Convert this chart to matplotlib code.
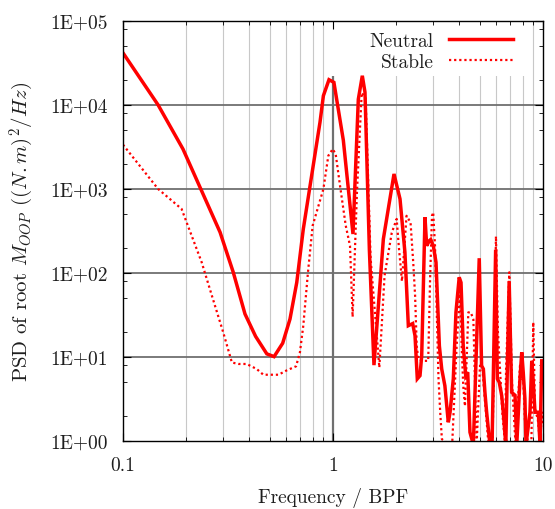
import matplotlib
matplotlib.use("Agg")
import matplotlib.pyplot as plt
from matplotlib.ticker import FixedLocator, FixedFormatter, NullFormatter
from matplotlib.patches import Rectangle

# ---------------- data ----------------
neutral_f = [0.100, 0.147, 0.193, 0.290, 0.335, 0.381, 0.428, 0.484, 0.524, 0.576,
             0.624, 0.672, 0.722, 0.867, 0.900, 0.957, 1.010, 1.120, 1.245, 1.320,
             1.379, 1.420, 1.490, 1.567, 1.737, 1.952, 2.085, 2.200, 2.284, 2.396,
             2.458, 2.520, 2.596, 2.645, 2.742, 2.793, 2.875, 2.918, 3.004, 3.094,
             3.210, 3.294, 3.410, 3.540, 3.610, 3.740, 3.850, 3.990, 4.070, 4.170,
             4.285, 4.380, 4.490, 4.660, 4.970, 5.100, 5.200, 5.290, 5.390, 5.590,
             5.720, 5.950, 6.060, 6.190, 6.360, 6.470, 6.650, 6.900, 7.090, 7.360,
             7.500, 7.770, 7.920, 8.050, 8.200, 8.300, 8.670, 8.840, 8.990, 9.160,
             9.500, 9.680, 9.860, 10.00]
neutral_psd = [41700, 10000, 2990, 305, 102, 32.5, 17.6, 10.9, 10.1, 14.6,
               28.3, 77, 333, 6220, 12900, 20000, 18600, 3800, 291, 11700,
               22300, 14200, 190, 8.0, 254, 1510, 760, 177, 23.6, 25,
               17.9, 5.5, 6.0, 10.4, 460, 211, 242, 250, 211, 134,
               13.6, 7.2, 4.55, 1.67, 2.2, 5.5, 34, 89, 77, 13.6,
               6.0, 6.6, 1.27, 0.9, 150, 7.9, 7.2, 3.8, 2.2, 0.9,
               0.9, 190, 5.5, 5.0, 3.46, 2.2, 0.9, 80, 3.8, 3.5,
               0.9, 5.5, 11.4, 6.6, 3.2, 0.9, 2.2, 9.0, 5.0, 2.2,
               2.2, 0.9, 9.0, 9.0]

stable_f = [0.100, 0.147, 0.190, 0.237, 0.265, 0.300, 0.330, 0.355, 0.388, 0.433,
            0.466, 0.550, 0.600, 0.667, 0.696, 0.722, 0.760, 0.800, 0.900, 0.950,
            0.997, 1.030, 1.080, 1.150, 1.205, 1.240, 1.300, 1.370, 1.430, 1.510,
            1.662, 1.760, 1.904, 2.010, 2.060, 2.130, 2.240, 2.340, 2.410, 2.460,
            2.504, 2.548, 2.700, 2.840, 2.900, 2.960, 3.000, 3.060, 3.120, 3.180,
            3.240, 3.300, 3.600, 3.700, 3.880, 3.950, 4.030, 4.100, 4.170, 4.250,
            4.410, 4.530, 4.660, 4.830, 5.010, 5.150, 5.250, 5.350, 5.500, 5.750,
            5.970, 6.100, 6.240, 6.400, 6.600, 6.670, 6.910, 7.120, 7.400, 7.770,
            7.920, 8.050, 8.200, 8.500, 8.800, 8.990, 9.150, 9.250, 9.450, 9.700,
            9.860, 10.00]
stable_psd = [3370, 1000, 580, 134, 53.7, 19.7, 8.6, 8.26, 8.26, 7.2,
              6.15, 6.15, 6.9, 7.75, 11.4, 23.6, 102, 366, 1000, 2490,
              2990, 2600, 1095, 366, 211, 30, 900, 14000, 12000, 150,
              7.5, 93, 300, 440, 200, 80, 480, 400, 134, 53.7,
              13.6, 9.4, 9.0, 9.0, 85, 480, 527, 211, 34, 5.5,
              2.2, 1.05, 0.9, 1.0, 13.6, 28, 65, 13.6, 4.55, 2.6,
              34, 34, 28, 0.9, 7.9, 7.2, 3.8, 2.2, 0.9, 0.9,
              273, 20, 7.2, 2.2, 0.9, 7.2, 102, 5.0, 0.9, 7.9,
              5.5, 5.5, 1.8, 0.9, 0.9, 25.9, 2.6, 2.2, 1.8, 0.9,
              2.2, 1.5]

series_labels = ["Neutral", "Stable"]

x_major = [0.1, 1, 10]
x_major_labels = ["0.1", "1", "10"]
x_minor = [0.2, 0.3, 0.4, 0.5, 0.6, 0.7, 0.8, 0.9, 2, 3, 4, 5, 6, 7, 8, 9]
y_major = [1, 10, 100, 1000, 10000, 100000]
y_major_labels = ["1E+00", "1E+01", "1E+02", "1E+03", "1E+04", "1E+05"]
y_minor = [m * d for d in [1, 10, 100, 1000, 10000] for m in (2, 5, 8)]

# ---------------- style ----------------
plt.rcParams["font.family"] = ["cmr10", "DejaVu Serif"]
plt.rcParams["mathtext.fontset"] = "cm"
plt.rcParams["axes.unicode_minus"] = False
plt.rcParams["axes.formatter.use_mathtext"] = True

text_color = "#1e1e1e"
red = "#ff0000"

fig = plt.figure(figsize=(5.55, 5.10), dpi=100)
ax = fig.add_axes([123 / 555, 68 / 510, 420 / 555, 420 / 510])
ax.set_xscale("log")
ax.set_yscale("log")
ax.set_xlim(x_major[0], x_major[-1])
ax.set_ylim(y_major[0], y_major[-1])

# grid lines (drawn manually so that the axis ticks stay above the key box)
for xv in x_minor:
    ax.axvline(xv, color="#c8c8c8", lw=0.8, zorder=0.5)
for xv in x_major[1:-1]:
    ax.axvline(xv, color="#707070", lw=1.6, zorder=0.5)
for yv in y_major[1:-1]:
    ax.axhline(yv, color="#707070", lw=1.3, zorder=0.5)

# opaque key background
ax.add_patch(Rectangle((0.483, 0.869), 0.481, 0.131, transform=ax.transAxes,
                       facecolor="white", edgecolor="none", zorder=0.8))

ax.plot(neutral_f, neutral_psd, color=red, lw=2.5, solid_joinstyle="miter",
        label=series_labels[0], zorder=2)
ax.plot(stable_f, stable_psd, color=red, lw=1.6, linestyle=(0, (1, 1.3)),
        dash_capstyle="butt", label=series_labels[1], zorder=2)

ax.xaxis.set_major_locator(FixedLocator(x_major))
ax.xaxis.set_major_formatter(FixedFormatter(x_major_labels))
ax.xaxis.set_minor_locator(FixedLocator(x_minor))
ax.xaxis.set_minor_formatter(NullFormatter())
ax.yaxis.set_major_locator(FixedLocator(y_major))
ax.yaxis.set_major_formatter(FixedFormatter(y_major_labels))
ax.yaxis.set_minor_locator(FixedLocator(y_minor))
ax.yaxis.set_minor_formatter(NullFormatter())

ax.tick_params(which="both", direction="in", top=True, right=True,
               labelsize=14, labelcolor=text_color, color="black")
ax.tick_params(which="major", length=6, width=0.8)
ax.tick_params(which="minor", length=3, width=0.6)
ax.tick_params(axis="x", which="major", pad=11)
ax.tick_params(axis="y", which="major", pad=11)

for s in ax.spines.values():
    s.set_linewidth(1.0)
    s.set_color("black")

ax.set_xlabel("Frequency / BPF", fontsize=14, color=text_color, labelpad=9)
ax.set_ylabel(r"PSD of root $M_{OOP}$ $((N.m)^2/Hz)$", fontsize=15,
              color=text_color, labelpad=10)

leg = ax.legend(loc="upper right", bbox_to_anchor=(0.929, 0.973),
                markerfirst=False, frameon=False, fontsize=14,
                handlelength=3.3, handletextpad=0.8, labelspacing=0.15,
                borderpad=0, borderaxespad=0)
for t in leg.get_texts():
    t.set_color(text_color)
leg.set_zorder(5)

fig.savefig("out.png", dpi=100)
